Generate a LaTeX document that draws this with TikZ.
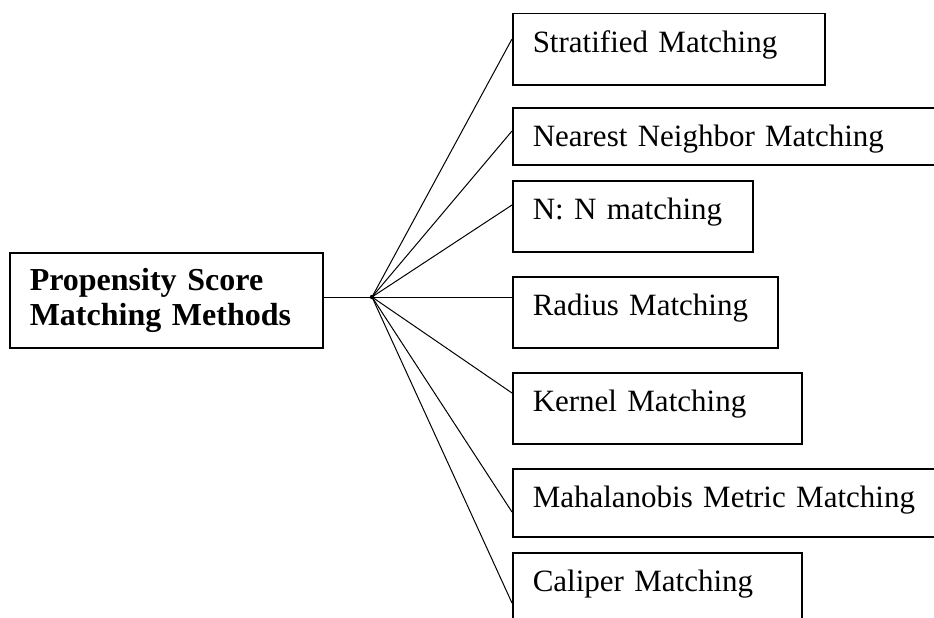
\documentclass[tikz,border=0pt]{standalone}
\usepackage{fontspec}
\setmainfont{Liberation Serif}
\tikzset{
  method/.style={draw, line width=1.5pt, anchor=north west, inner xsep=20pt, inner ysep=13pt,
    text height=26pt, align=left, font=\fontsize{31}{35}\selectfont},
  link/.style={line width=1pt},
}
\begin{document}
\begin{tikzpicture}[x=1pt,y=-1pt]
\useasboundingbox (0,0) rectangle (934,618);
% main box
\node [draw, line width=1.5pt, anchor=north west, minimum width=313pt, minimum height=95pt,
  text width=273pt, inner xsep=20pt, align=left, font=\fontsize{32}{35}\selectfont\bfseries]
  (psm) at (9,252) {Propensity Score\\Matching Methods};
\coordinate (hub) at (372,297);
% methods
\node [method, text width=272pt, text depth=19pt] (strat) at (512,13) {Stratified Matching};
\node [method, text width=383pt, text depth=5pt] (near) at (512,107) {Nearest Neighbor Matching};
\node [method, text width=200pt, text depth=19pt] (nn) at (512,180) {N: N matching};
\node [method, text width=225pt, text depth=19pt] (rad) at (512,276) {Radius Matching};
\node [method, text width=249pt, text depth=19pt] (kern) at (512,372) {Kernel Matching};
\node [method, text width=383pt, text depth=16pt] (mahal) at (512,468) {Mahalanobis Metric Matching};
\node [method, text width=249pt, text depth=21pt] (cal) at (512,552) {Caliper Matching};
% connectors
\draw [link] (hub -| psm.east) -- (hub);
\fill (hub) circle (2.2pt);
\draw [link] (hub) -- ([yshift=-26pt]strat.north west);
\draw [link] (hub) -- ([yshift=-24pt]near.north west);
\draw [link] (hub) -- ([yshift=-25pt]nn.north west);
\draw [link] (hub) -- ([yshift=-21pt]rad.north west);
\draw [link] (hub) -- ([yshift=-21pt]kern.north west);
\draw [link] (hub) -- ([yshift=-44pt]mahal.north west);
\draw [link] (hub) -- ([yshift=-51pt]cal.north west);
\end{tikzpicture}
\end{document}
